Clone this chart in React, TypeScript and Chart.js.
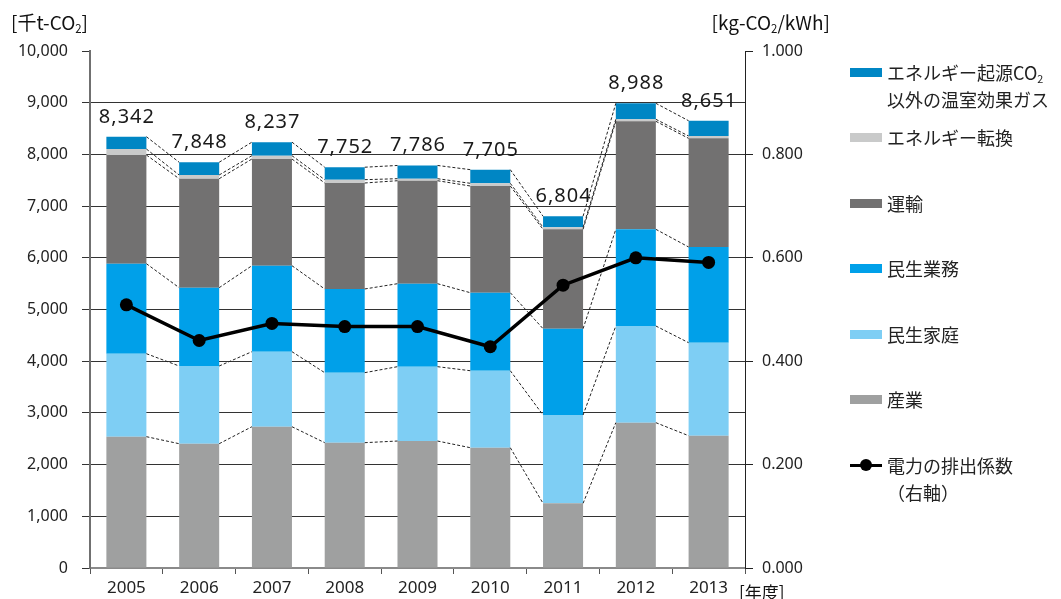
import React, { useEffect, useRef } from "react";
import { Chart, registerables } from "chart.js";
Chart.register(...registerables);

const years = ["2005", "2006", "2007", "2008", "2009", "2010", "2011", "2012", "2013"];
const industry = [2540, 2404, 2733, 2424, 2456, 2327, 1251, 2811, 2559];
const household = [1605, 1503, 1451, 1354, 1438, 1489, 1708, 1870, 1799];
const business = [1741, 1515, 1663, 1619, 1605, 1509, 1670, 1870, 1851];
const transport = [2102, 2108, 2064, 2050, 1992, 2064, 1922, 2089, 2102];
const conversion = [116, 72, 64, 64, 39, 52, 39, 39, 45];
const otherGas = [238, 246, 262, 241, 256, 264, 214, 309, 295];
const totals = [8342, 7848, 8237, 7752, 7786, 7705, 6804, 8988, 8651];
const emissionFactor = [0.509, 0.44, 0.473, 0.467, 0.467, 0.428, 0.547, 0.6, 0.591];

const seriesNames = ["産業", "民生家庭", "民生業務", "運輸", "エネルギー転換", "エネルギー起源CO₂以外の温室効果ガス"];
const seriesValues = [industry, household, business, transport, conversion, otherGas];
const seriesColors = ["#9FA0A0", "#7ECEF4", "#00A0E9", "#727171", "#C9CACA", "#0086C4"];
const lineName = "電力の排出係数（右軸）";

const leftTitle = "[千t-CO₂]";
const rightTitle = "[kg-CO₂/kWh]";
const xTitle = "[年度]";

const legendItems = [
  { lines: ["エネルギー起源CO₂", "以外の温室効果ガス"], color: seriesColors[5], kind: "bar" },
  { lines: ["エネルギー転換"], color: seriesColors[4], kind: "bar" },
  { lines: ["運輸"], color: seriesColors[3], kind: "bar" },
  { lines: ["民生業務"], color: seriesColors[2], kind: "bar" },
  { lines: ["民生家庭"], color: seriesColors[1], kind: "bar" },
  { lines: ["産業"], color: seriesColors[0], kind: "bar" },
  { lines: ["電力の排出係数", "（右軸）"], color: "#000", kind: "line" },
];

function withSub(text: string) {
  const parts = text.split("₂");
  const out: React.ReactNode[] = [];
  parts.forEach((p, i) => {
    out.push(<span key={"t" + i}>{p}</span>);
    if (i < parts.length - 1)
      out.push(
        <span key={"s" + i} style={{ fontSize: "0.6em", verticalAlign: "-0.3em", lineHeight: 0 }}>
          2
        </span>
      );
  });
  return out;
}

const overlayPlugin = {
  id: "overlay",
  beforeDatasetDraw(chart: any, args: any) {
    if (args.index !== seriesValues.length) return;
    const ctx = chart.ctx;
    const yScale = chart.scales.y;
    const meta0 = chart.getDatasetMeta(0);
    ctx.save();
    ctx.strokeStyle = "#222";
    ctx.lineWidth = 1;
    ctx.setLineDash([3, 2]);
    for (let k = 0; k < seriesValues.length; k++) {
      for (let i = 0; i < years.length - 1; i++) {
        let c1 = 0;
        let c2 = 0;
        for (let d = 0; d <= k; d++) {
          c1 += seriesValues[d][i];
          c2 += seriesValues[d][i + 1];
        }
        const e1 = meta0.data[i];
        const e2 = meta0.data[i + 1];
        ctx.beginPath();
        ctx.moveTo(e1.x + e1.width / 2, yScale.getPixelForValue(c1));
        ctx.lineTo(e2.x - e2.width / 2, yScale.getPixelForValue(c2));
        ctx.stroke();
      }
    }
    ctx.restore();
  },
  afterDatasetsDraw(chart: any) {
    const ctx = chart.ctx;
    const yScale = chart.scales.y;
    const xScale = chart.scales.x;
    ctx.save();
    ctx.font = "20px 'Noto Sans'";
    ctx.fillStyle = "#1a1a1a";
    ctx.textAlign = "center";
    ctx.textBaseline = "alphabetic";
    try {
      (ctx as any).letterSpacing = "1px";
    } catch (e) {}
    totals.forEach((t, i) => {
      const x = xScale.getPixelForValue(i);
      const y = yScale.getPixelForValue(t);
      ctx.fillText(t.toLocaleString("en-US"), x + 0.5, y - 14);
    });
    ctx.restore();
  },
};

export default function App() {
  const canvasRef = useRef<HTMLCanvasElement>(null);

  useEffect(() => {
    document.body.style.margin = "0";
    const canvas = canvasRef.current!;
    const barSets = seriesValues.map((vals, i) => ({
      type: "bar" as const,
      label: seriesNames[i],
      data: vals,
      backgroundColor: seriesColors[i],
      borderWidth: 0,
      yAxisID: "y",
      stack: "s",
      order: 1,
      barPercentage: 0.55,
      categoryPercentage: 1,
    }));
    const chart = new Chart(canvas, {
      type: "bar",
      data: {
        labels: years,
        datasets: [
          ...barSets,
          {
            type: "line" as const,
            label: lineName,
            data: emissionFactor,
            yAxisID: "y1",
            borderColor: "#000",
            backgroundColor: "#000",
            borderWidth: 3.5,
            pointRadius: 6.5,
            pointBackgroundColor: "#000",
            pointBorderWidth: 0,
            order: 0,
          } as any,
        ],
      },
      options: {
        responsive: false,
        animation: false,
        devicePixelRatio: 1,
        layout: { padding: { left: 0, right: 256, top: 51, bottom: 0 } },
        plugins: { legend: { display: false }, tooltip: { enabled: false } },
        scales: {
          x: {
            stacked: true,
            offset: true,
            grid: { drawOnChartArea: false, offset: true, tickLength: 6, tickColor: "#555" },
            border: { color: "#8a8a8a", width: 2 },
            ticks: { font: { family: "'Noto Sans'", size: 17 }, color: "#222", padding: 4 },
            afterFit: (s: any) => {
              s.height = 31;
            },
          },
          y: {
            stacked: true,
            position: "left",
            min: 0,
            max: 10000,
            ticks: {
              stepSize: 1000,
              font: { family: "'Noto Sans'", size: 16 },
              color: "#222",
              padding: 14,
              callback: (v: any) => Number(v).toLocaleString("en-US"),
            },
            grid: {
              color: (c: any) => (c.tick && (c.tick.value === 0 || c.tick.value === 10000) ? "rgba(0,0,0,0)" : "#333"),
              tickColor: "#333",
              tickLength: 8,
            },
            border: { color: "#707070", width: 2 },
            afterFit: (s: any) => {
              s.width = 90;
            },
          },
          y1: {
            position: "right",
            min: 0,
            max: 1,
            ticks: {
              stepSize: 0.2,
              font: { family: "'Noto Sans'", size: 16 },
              color: "#222",
              padding: 9,
              callback: (v: any) => Number(v).toFixed(3),
            },
            grid: { drawOnChartArea: false, tickColor: "#222", tickLength: 8 },
            border: { color: "#222", width: 1 },
            afterFit: (s: any) => {
              s.width = 60;
            },
          },
        },
      },
      plugins: [overlayPlugin],
    });
    return () => chart.destroy();
  }, []);

  const font = "'Noto Sans CJK JP', 'Noto Sans', sans-serif";

  return (
    <div style={{ position: "relative", width: 1061, height: 599, overflow: "hidden", background: "#fff" }}>
      <canvas ref={canvasRef} width={1061} height={599} style={{ position: "absolute", left: 0, top: 0 }} />
      <div style={{ position: "absolute", left: 11, top: 9, fontFamily: font, fontSize: 19, lineHeight: "26px", color: "#111", whiteSpace: "nowrap" }}>
        {withSub(leftTitle)}
      </div>
      <div style={{ position: "absolute", right: 231, top: 9, fontFamily: font, fontSize: 19, lineHeight: "26px", color: "#111", whiteSpace: "nowrap" }}>
        {withSub(rightTitle)}
      </div>
      <div style={{ position: "absolute", left: 739, top: 580, fontFamily: font, fontSize: 17, lineHeight: "24px", color: "#111", whiteSpace: "nowrap" }}>
        {xTitle}
      </div>
      {legendItems.map((it, i) => {
        const cy = 72 + 65.5 * i;
        return (
          <div key={i} style={{ position: "absolute", left: 850, top: cy - 13.5, fontFamily: font, fontSize: 18, lineHeight: "27px", color: "#222", whiteSpace: "nowrap" }}>
            {it.kind === "bar" ? (
              <div style={{ position: "absolute", left: 0, top: 9, width: 32, height: 9, background: it.color }} />
            ) : (
              <div style={{ position: "absolute", left: 0, top: 0, width: 32, height: 27 }}>
                <div style={{ position: "absolute", left: 0, top: 12, width: 32, height: 3, background: "#000" }} />
                <div style={{ position: "absolute", left: 10, top: 7.5, width: 12, height: 12, borderRadius: 6, background: "#000" }} />
              </div>
            )}
            <div style={{ marginLeft: 37 }}>
              {it.lines.map((l, j) => (
                <div key={j} style={{ height: 27 }}>{withSub(l)}</div>
              ))}
            </div>
          </div>
        );
      })}
    </div>
  );
}
